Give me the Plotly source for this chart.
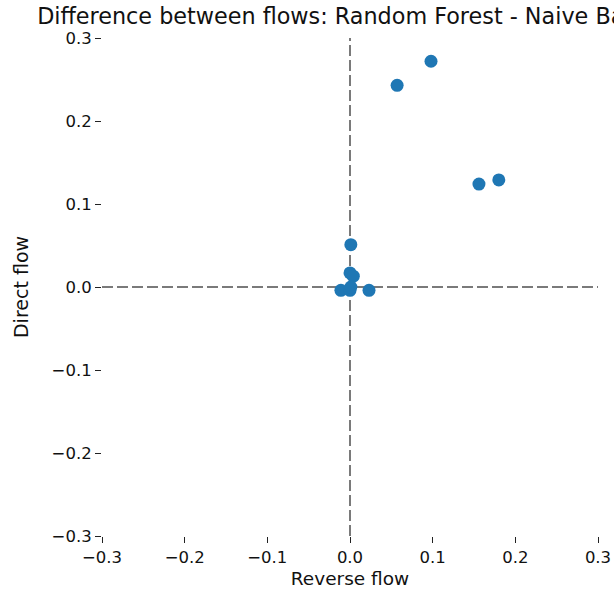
import plotly.graph_objects as go

# Flow differences (Random Forest minus Naive Bayes)
reverse_flow = [0.098, 0.057, 0.156, 0.180, 0.001, 0.000, 0.004, -0.011, 0.000, 0.023, 0.001]
direct_flow = [0.272, 0.243, 0.124, 0.129, 0.051, 0.017, 0.013, -0.004, -0.004, -0.004, 0.000]

tick_vals = [-0.3, -0.2, -0.1, 0.0, 0.1, 0.2, 0.3]
tick_text = ["\u22120.3", "\u22120.2", "\u22120.1", "0.0", "0.1", "0.2", "0.3"]

font = "DejaVu Sans"

fig = go.Figure()
fig.add_trace(go.Scatter(
    x=reverse_flow, y=direct_flow, mode="markers",
    marker=dict(color="#1f77b4", size=13, line=dict(width=0)),
    showlegend=False,
))

dash_style = dict(color="#7a7a7a", width=2, dash="11px,4px")
fig.add_hline(y=0, line=dash_style, layer="below")
fig.add_vline(x=0, line=dash_style, layer="below")

axis_common = dict(
    range=[-0.3, 0.3], tickvals=tick_vals, ticktext=tick_text,
    showgrid=False, zeroline=False, showline=False,
    ticks="outside", ticklen=6, tickwidth=1.2, tickcolor="#222222",
    tickfont=dict(family=font, size=16.5, color="#111111"),
)

fig.update_layout(
    width=614, height=591,
    margin=dict(l=102, r=16, t=38, b=55, autoexpand=False),
    paper_bgcolor="white", plot_bgcolor="white",
    title=dict(
        text="Difference between flows: Random Forest - Naive Bayes",
        x=0.5, xref="paper", xanchor="center",
        y=1 - 16 / 591, yref="container", yanchor="middle",
        font=dict(family=font, size=22.3, color="#111111"),
    ),
    xaxis=dict(axis_common, title=dict(text="Reverse flow", standoff=6,
               font=dict(family=font, size=18.5, color="#111111"))),
    yaxis=dict(axis_common, title=dict(text="Direct flow", standoff=17,
               font=dict(family=font, size=19, color="#111111"))),
    font=dict(family=font),
)

fig.write_html("out.html")
